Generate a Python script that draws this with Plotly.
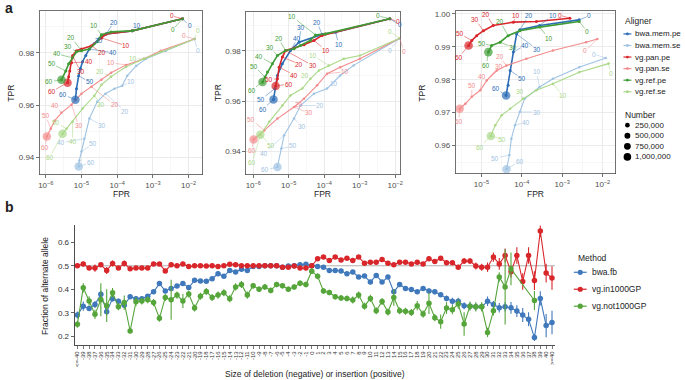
import math
import plotly.graph_objects as go

W, H = 685, 380
FONT = "Liberation Sans, Arial, Helvetica, sans-serif"

# ---------------- Panel a : ROC-like curves ----------------
ALIGNERS = ["bwa.mem.pe", "bwa.mem.se", "vg.pan.pe", "vg.pan.se", "vg.ref.pe", "vg.ref.se"]
ALIGNER_COLORS = ["#2c6db5", "#9fc3e3", "#d9262b", "#f38b8c", "#3f9c35", "#aad887"]
NUMBER_LEGEND = [250000, 500000, 750000, 1000000]
NUMBER_LEGEND_TEXT = ["250,000", "500,000", "750,000", "1,000,000"]

# panel a1
a1_bwa_mem_pe_fpr = [6.76e-3, 2.63e-4, 4.9e-5, 3.16e-5, 2.24e-5, 1.66e-5, 1.32e-5, 1.07e-5, 9.33e-6, 8.32e-6, 7.24e-6, 6.76e-6]
a1_bwa_mem_pe_tpr = [0.9930, 0.9884, 0.9872, 0.9855, 0.9835, 0.9815, 0.9790, 0.9766, 0.9740, 0.9712, 0.9663, 0.9621]
a1_bwa_mem_se_fpr = [1.47e-2, 2.29e-3, 6.46e-4, 3.39e-4, 1.91e-4, 1.38e-4, 8.32e-5, 4.68e-5, 2.75e-5, 1.66e-5, 1.2e-5, 1.0e-5, 8.71e-6, 8.32e-6]
a1_bwa_mem_se_tpr = [0.9853, 0.9808, 0.9777, 0.9750, 0.9712, 0.9674, 0.9663, 0.9644, 0.9613, 0.9549, 0.9472, 0.9423, 0.9389, 0.9366]
a1_vg_pan_pe_fpr = [6.76e-3, 2.63e-4, 4.9e-5, 3.63e-5, 1.91e-5, 1.0e-5, 7.24e-6, 5.62e-6, 5.25e-6, 4.68e-6, 4.37e-6, 4.07e-6]
a1_vg_pan_pe_tpr = [0.9930, 0.9884, 0.9872, 0.9857, 0.9827, 0.9815, 0.9808, 0.9789, 0.9762, 0.9731, 0.9709, 0.9686]
a1_vg_pan_se_fpr = [1.47e-2, 1.66e-3, 5.62e-4, 1.78e-4, 6.76e-5, 3.63e-5, 1.91e-5, 1.0e-5, 5.25e-6, 2.75e-6, 1.78e-6, 1.38e-6, 1.07e-6]
a1_vg_pan_se_tpr = [0.9853, 0.9808, 0.9777, 0.9754, 0.9724, 0.9697, 0.9670, 0.9644, 0.9602, 0.9571, 0.9541, 0.9510, 0.9480]
a1_vg_ref_pe_fpr = [6.76e-3, 2.63e-4, 6.76e-5, 3.63e-5, 2.75e-5, 1.66e-5, 1.0e-5, 7.24e-6, 5.62e-6, 4.37e-6, 3.63e-6, 2.75e-6]
a1_vg_ref_pe_tpr = [0.9930, 0.9884, 0.9880, 0.9869, 0.9842, 0.9815, 0.9808, 0.9804, 0.9781, 0.9758, 0.9731, 0.9697]
a1_vg_ref_se_fpr = [1.47e-2, 1.66e-3, 5.62e-4, 1.78e-4, 6.76e-5, 3.63e-5, 2.29e-5, 1.07e-5, 5.62e-6, 3.8e-6, 2.95e-6]
a1_vg_ref_se_tpr = [0.9853, 0.9804, 0.9777, 0.9747, 0.9709, 0.9678, 0.9636, 0.9587, 0.9537, 0.9510, 0.9491]
a1_number = [1000000, 1000000, 1000000, 1000000, 1000000, 1000000]

# panel a2
a2_bwa_mem_pe_fpr = [7.08e-3, 2.09e-4, 8.71e-5, 1.95e-5, 1.12e-5, 6.61e-6, 4.79e-6, 4.07e-6, 3.72e-6]
a2_bwa_mem_pe_tpr = [0.9927, 0.9874, 0.9865, 0.9834, 0.9801, 0.9749, 0.9702, 0.9650, 0.9607]
a2_bwa_mem_se_fpr = [1.35e-2, 6.76e-4, 2.82e-4, 1.2e-4, 5.13e-5, 2.14e-5, 1.41e-5, 7.41e-6, 6.17e-6, 4.79e-6]
a2_bwa_mem_se_tpr = [0.9850, 0.9742, 0.9702, 0.9650, 0.9630, 0.9583, 0.9531, 0.9465, 0.9412, 0.9339]
a2_vg_pan_pe_fpr = [7.08e-3, 1.07e-4, 8.71e-5, 5.13e-5, 2.69e-5, 1.41e-5, 8.13e-6, 6.61e-6, 5.37e-6, 4.79e-6, 4.27e-6]
a2_vg_pan_pe_tpr = [0.9927, 0.9867, 0.9861, 0.9841, 0.9824, 0.9811, 0.9801, 0.9775, 0.9735, 0.9689, 0.9660]
a2_vg_pan_se_fpr = [1.35e-2, 1.02e-3, 2.82e-4, 1.2e-4, 6.31e-5, 2.69e-5, 1.41e-5, 4.79e-6, 2.04e-6, 1.02e-6]
a2_vg_pan_se_tpr = [0.9850, 0.9768, 0.9735, 0.9709, 0.9663, 0.9610, 0.9577, 0.9531, 0.9484, 0.9448]
a2_vg_ref_pe_fpr = [7.08e-3, 1.07e-4, 5.68e-5, 4.07e-5, 2.14e-5, 1.41e-5, 8.13e-6, 4.79e-6, 3.47e-6, 2.51e-6, 2.14e-6, 1.82e-6]
a2_vg_ref_pe_tpr = [0.9927, 0.9867, 0.9863, 0.9841, 0.9821, 0.9808, 0.9801, 0.9781, 0.9749, 0.9716, 0.9696, 0.9676]
a2_vg_ref_se_fpr = [1.35e-2, 1.02e-3, 3.55e-4, 1.35e-4, 7.08e-5, 4.07e-5, 2.4e-5, 1.12e-5, 6.61e-6, 2.82e-6, 1.58e-6]
a2_vg_ref_se_tpr = [0.9850, 0.9781, 0.9768, 0.9742, 0.9722, 0.9689, 0.9650, 0.9623, 0.9583, 0.9518, 0.9467]
a2_number = [1000000, 1000000, 1000000, 1000000, 1000000, 1000000]

# panel a3
a3_bwa_mem_pe_fpr = [2.63e-3, 2.75e-4, 8.91e-5, 7.41e-5, 6.17e-5, 5.13e-5, 4.57e-5, 4.07e-5]
a3_bwa_mem_pe_tpr = [0.9982, 0.9965, 0.9952, 0.9939, 0.9884, 0.9828, 0.9783, 0.9752]
a3_bwa_mem_se_fpr = [1.2e-2, 2.63e-3, 5.89e-4, 2.75e-4, 1.17e-4, 8.91e-5, 6.76e-5, 5.5e-5, 4.9e-5, 4.17e-5]
a3_bwa_mem_se_tpr = [0.9866, 0.9838, 0.9803, 0.9778, 0.9742, 0.9702, 0.9662, 0.9621, 0.9571, 0.9528]
a3_vg_pan_pe_fpr = [1.55e-3, 2.29e-4, 6.17e-5, 1.95e-5, 1.12e-5, 7.59e-6, 5.75e-6, 4.79e-6]
a3_vg_pan_pe_tpr = [0.9987, 0.9977, 0.9975, 0.9965, 0.9949, 0.9934, 0.9919, 0.9904]
a3_vg_pan_se_fpr = [7.41e-3, 3.89e-3, 5.89e-4, 1.29e-4, 4.17e-5, 2.4e-5, 1.35e-5, 9.33e-6, 5.75e-6, 3.98e-6, 2.88e-6]
a3_vg_pan_se_tpr = [0.9924, 0.9914, 0.9889, 0.9864, 0.9843, 0.9828, 0.9798, 0.9768, 0.9748, 0.9727, 0.9712]
a3_vg_ref_pe_fpr = [2.63e-3, 2.75e-4, 8.91e-5, 4.57e-5, 2.88e-5, 1.78e-5, 1.48e-5]
a3_vg_ref_pe_tpr = [0.9977, 0.9960, 0.9949, 0.9934, 0.9914, 0.9904, 0.9884]
a3_vg_ref_se_fpr = [1.41e-2, 2.63e-3, 5.89e-4, 2.29e-4, 1.07e-4, 5.13e-5, 3.16e-5, 2.19e-5, 1.7e-5]
a3_vg_ref_se_tpr = [0.9849, 0.9823, 0.9788, 0.9768, 0.9742, 0.9712, 0.9692, 0.9662, 0.9629]
a3_number = [1000000, 1000000, 1050000, 1000000, 1050000, 1000000]

# MAPQ labels: (text, vertex index, dx px, dy px) -- placement only
LABELS_A1 = {
    "bwa.mem.pe": [("0", 0, 7, 7), ("10", 1, 5, -5), ("20", 2, 8, -12), ("30", 3, 0, 2), ("40", 5, 24, 4), ("50", 9, 11, 6), ("60", 11, -12, -5)],
    "bwa.mem.se": [("0", 0, 3, 12), ("10", 5, 9, -4), ("20", 7, 20, 18), ("30", 9, 13, 7), ("40", 10, -23, 4), ("50", 11, 12, -8), ("60", 13, 12, -4)],
    "vg.pan.pe": [("0", 0, -11, -3), ("10", 3, 25, 8), ("20", 4, 10, 7), ("30", 7, 8, 16), ("40", 8, 17, -1), ("60", 11, -16, 9)],
    "vg.pan.se": [("0", 0, -11, -3), ("10", 3, -15, -2), ("20", 6, 23, 18), ("30", 8, 7, 21), ("40", 9, -6, -7), ("50", 11, -5, -13), ("60", 12, -2, 11)],
    "vg.ref.pe": [("0", 0, -10, 11), ("10", 3, -7, -9), ("20", 6, -10, -13), ("30", 7, -8, -5), ("40", 8, -16, -4), ("50", 10, -14, -7), ("60", 11, -12, 2)],
    "vg.ref.se": [("0", 0, 3, -8), ("10", 2, -11, 0), ("20", 4, -11, -5), ("30", 6, 7, 9), ("40", 8, 0, 20), ("50", 9, -10, -6), ("60", 10, -13, 24)],
}
LABELS_A2 = {
    "bwa.mem.pe": [("0", 0, 10, 6), ("10", 1, 3, 12), ("20", 2, -5, -12), ("30", 3, 2, -15), ("40", 4, 7, -12), ("50", 7, -14, 11), ("60", 8, -11, 10)],
    "bwa.mem.se": [("0", 0, -10, 12), ("10", 3, 7, -5), ("20", 5, 20, 0), ("30", 6, 8, 8), ("40", 7, -20, 18), ("50", 8, 12, -3), ("60", 9, -12, 3)],
    "vg.pan.pe": [("0", 0, 8, 3), ("10", 3, 12, 10), ("20", 7, 17, 7), ("30", 6, 27, 15), ("40", 8, 15, 8), ("50", 9, -8, 1), ("60", 10, 13, -2)],
    "vg.pan.se": [("0", 0, 4, 13), ("10", 3, 18, -2), ("20", 5, -5, 6), ("30", 6, 15, 6), ("50", 8, -13, -11), ("60", 9, -2, 11)],
    "vg.ref.pe": [("0", 0, -12, -3), ("10", 2, -23, -18), ("20", 6, -7, -12), ("30", 7, -7, -8), ("40", 8, -13, -7), ("50", 10, -11, -11), ("60", 11, -11, 8)],
    "vg.ref.se": [("0", 0, -10, -7), ("10", 3, -16, -10), ("20", 5, -5, -3), ("50", 10, 11, 11), ("60", 10, -8, 28)],
}
LABELS_A3 = {
    "bwa.mem.pe": [("0", 0, 10, -4), ("10", 1, 13, -10), ("20", 2, 9, -14), ("30", 3, 20, 15), ("40", 4, 12, -7), ("50", 5, 12, 8), ("60", 7, -10, -7)],
    "bwa.mem.se": [("0", 0, -12, -4), ("10", 3, -3, -15), ("30", 5, 17, 0), ("40", 6, 11, -3), ("50", 8, -14, 3), ("60", 9, 13, -8)],
    "vg.pan.pe": [("0", 0, -10, -3), ("10", 2, 3, -7), ("20", 3, -7, -11), ("30", 4, -8, -11), ("50", 6, -12, -7), ("60", 7, -10, 12)],
    "vg.pan.se": [("0", 0, -12, 12), ("20", 4, -7, -9), ("30", 6, 12, -14), ("40", 7, 2, -14), ("50", 8, 0, -11), ("60", 10, -1, 13)],
    "vg.ref.pe": [("0", 0, 8, 10), ("10", 1, 9, 11), ("20", 3, -8, -14), ("30", 4, 13, 5), ("50", 5, -10, -2), ("60", 6, -2, 13)],
    "vg.ref.se": [("0", 0, 2, 10), ("10", 2, 10, 12), ("30", 4, -3, -7), ("50", 8, 11, 3), ("60", 8, -11, 11)],
}

# ---------------- Panel b : fraction of alternate allele ----------------
METHODS = ["bwa.fb", "vg.in1000GP", "vg.not1000GP"]
METHOD_COLORS = ["#3f78bb", "#d8262a", "#55a53a"]
size_categories = ["<=-40"] + [str(v) for v in range(-39, 41)] + [">=40"]

bwa_fb = [0.29, 0.328, 0.318, 0.335, 0.379, 0.304, 0.36, 0.349, 0.332, 0.368,
          0.36, 0.36, 0.37, 0.389, 0.424, 0.393, 0.403, 0.414, 0.424, 0.407,
          0.438, 0.435, 0.434, 0.445, 0.466, 0.455, 0.48, 0.473, 0.485, 0.48,
          0.497, 0.497, 0.50, 0.50, 0.50, 0.494, 0.499, 0.50, 0.504, 0.506,
          0.50, 0.497, 0.494, 0.48, 0.48, 0.478, 0.466, 0.473, 0.452, 0.456,
          0.431, 0.459, 0.431, 0.452, 0.389, 0.42, 0.403, 0.399, 0.389, 0.403,
          0.393, 0.389, 0.377, 0.361, 0.349, 0.349, 0.33, 0.328, 0.325, 0.325,
          0.349, 0.335, 0.321, 0.325, 0.321, 0.307, 0.29, 0.272, 0.194, 0.361,
          0.245, 0.258]
bwa_fb_err = [0.015, 0.02, 0.01, 0.015, 0.015, 0.015, 0.012, 0.01, 0.01, 0.01,
              0.01, 0.008, 0.008, 0.008, 0.008, 0.008, 0.006, 0.006, 0.006, 0.006,
              0.005, 0.005, 0.005, 0.005, 0.005, 0.005, 0.005, 0.005, 0.005, 0.005,
              0.005, 0.005, 0.005, 0.005, 0.005, 0.005, 0.005, 0.005, 0.005, 0.005,
              0.005, 0.005, 0.005, 0.005, 0.005, 0.005, 0.005, 0.005, 0.005, 0.005,
              0.008, 0.008, 0.008, 0.008, 0.008, 0.008, 0.008, 0.008, 0.008, 0.008,
              0.01, 0.01, 0.01, 0.012, 0.015, 0.015, 0.015, 0.015, 0.015, 0.015,
              0.02, 0.015, 0.02, 0.02, 0.025, 0.025, 0.03, 0.03, 0.015, 0.03,
              0.05, 0.05]
vg_in1000gp = [0.50, 0.508, 0.49, 0.49, 0.504, 0.48, 0.51, 0.49, 0.51, 0.487,
               0.49, 0.49, 0.49, 0.508, 0.508, 0.478, 0.504, 0.50, 0.508, 0.497,
               0.50, 0.50, 0.499, 0.50, 0.497, 0.50, 0.507, 0.504, 0.50, 0.50,
               0.50, 0.50, 0.50, 0.50, 0.50, 0.494, 0.494, 0.499, 0.49, 0.49,
               0.50, 0.53, 0.537, 0.522, 0.537, 0.525, 0.532, 0.522, 0.537, 0.511,
               0.515, 0.515, 0.527, 0.511, 0.504, 0.515, 0.515, 0.508, 0.515, 0.508,
               0.53, 0.518, 0.532, 0.513, 0.513, 0.494, 0.52, 0.52, 0.499, 0.494,
               0.494, 0.537, 0.508, 0.544, 0.475, 0.544, 0.433, 0.544, 0.437, 0.648,
               0.469, 0.448]
vg_in1000gp_err = [0.01, 0.01, 0.008, 0.015, 0.008, 0.015, 0.013, 0.008, 0.012, 0.008,
                   0.008, 0.006, 0.006, 0.008, 0.008, 0.008, 0.006, 0.006, 0.006, 0.006,
                   0.006, 0.006, 0.006, 0.006, 0.006, 0.006, 0.006, 0.006, 0.006, 0.006,
                   0.005, 0.005, 0.005, 0.005, 0.005, 0.005, 0.005, 0.005, 0.005, 0.005,
                   0.005, 0.006, 0.006, 0.006, 0.006, 0.006, 0.006, 0.006, 0.006, 0.006,
                   0.006, 0.006, 0.006, 0.006, 0.006, 0.006, 0.006, 0.006, 0.008, 0.008,
                   0.01, 0.008, 0.01, 0.01, 0.01, 0.01, 0.012, 0.012, 0.015, 0.015,
                   0.02, 0.02, 0.025, 0.03, 0.025, 0.035, 0.035, 0.035, 0.04, 0.025,
                   0.04, 0.05]
vg_not1000gp = [0.251, 0.406, 0.35, 0.293, 0.355, 0.33, 0.385, 0.325, 0.343, 0.222,
                0.347, 0.35, 0.355, 0.343, 0.276, 0.365, 0.355, 0.375, 0.35, 0.38,
                0.32, 0.37, 0.39, 0.365, 0.375, 0.385, 0.36, 0.41, 0.42, 0.375,
                0.415, 0.40, 0.41, 0.395, 0.42, 0.415, 0.40, 0.41, 0.425, 0.42,
                0.477, 0.455, 0.392, 0.386, 0.368, 0.363, 0.361, 0.354, 0.375, 0.328,
                0.361, 0.308, 0.348, 0.303, 0.365, 0.308, 0.306, 0.301, 0.33, 0.294,
                0.34, 0.279, 0.262, 0.32, 0.313, 0.337, 0.252, 0.328, 0.325, 0.325,
                0.216, 0.308, 0.452, 0.41, 0.487, None, None, None, 0.352, None,
                None, None]
vg_not1000gp_err = [0.015, 0.02, 0.02, 0.02, 0.07, 0.07, 0.02, 0.015, 0.03, 0.01,
                    0.02, 0.015, 0.015, 0.015, 0.015, 0.015, 0.085, 0.015, 0.03, 0.015,
                    0.015, 0.015, 0.015, 0.015, 0.015, 0.015, 0.015, 0.015, 0.015, 0.015,
                    0.012, 0.012, 0.012, 0.012, 0.012, 0.012, 0.012, 0.012, 0.012, 0.012,
                    0.012, 0.012, 0.012, 0.012, 0.012, 0.012, 0.012, 0.015, 0.015, 0.015,
                    0.015, 0.015, 0.015, 0.015, 0.035, 0.015, 0.015, 0.015, 0.02, 0.015,
                    0.045, 0.015, 0.03, 0.025, 0.02, 0.02, 0.05, 0.02, 0.02, 0.02,
                    0.02, 0.02, 0.02, 0.16, 0.07, 0, 0, 0, 0.04, 0,
                    0, 0]

# ---------------- build ----------------
def fx(px):
    return px / W


def fy(py):
    return 1 - py / H


def dot_size(n):
    return 2 + 6.5 * math.sqrt(n / 1e6)


fig = go.Figure()
annotations = []
shapes = []

panels = [
    ("x", "y", {
        "bwa.mem.pe": (a1_bwa_mem_pe_fpr, a1_bwa_mem_pe_tpr),
        "bwa.mem.se": (a1_bwa_mem_se_fpr, a1_bwa_mem_se_tpr),
        "vg.pan.pe": (a1_vg_pan_pe_fpr, a1_vg_pan_pe_tpr),
        "vg.pan.se": (a1_vg_pan_se_fpr, a1_vg_pan_se_tpr),
        "vg.ref.pe": (a1_vg_ref_pe_fpr, a1_vg_ref_pe_tpr),
        "vg.ref.se": (a1_vg_ref_se_fpr, a1_vg_ref_se_tpr),
    }, a1_number, LABELS_A1),
    ("x2", "y2", {
        "bwa.mem.pe": (a2_bwa_mem_pe_fpr, a2_bwa_mem_pe_tpr),
        "bwa.mem.se": (a2_bwa_mem_se_fpr, a2_bwa_mem_se_tpr),
        "vg.pan.pe": (a2_vg_pan_pe_fpr, a2_vg_pan_pe_tpr),
        "vg.pan.se": (a2_vg_pan_se_fpr, a2_vg_pan_se_tpr),
        "vg.ref.pe": (a2_vg_ref_pe_fpr, a2_vg_ref_pe_tpr),
        "vg.ref.se": (a2_vg_ref_se_fpr, a2_vg_ref_se_tpr),
    }, a2_number, LABELS_A2),
    ("x3", "y3", {
        "bwa.mem.pe": (a3_bwa_mem_pe_fpr, a3_bwa_mem_pe_tpr),
        "bwa.mem.se": (a3_bwa_mem_se_fpr, a3_bwa_mem_se_tpr),
        "vg.pan.pe": (a3_vg_pan_pe_fpr, a3_vg_pan_pe_tpr),
        "vg.pan.se": (a3_vg_pan_se_fpr, a3_vg_pan_se_tpr),
        "vg.ref.pe": (a3_vg_ref_pe_fpr, a3_vg_ref_pe_tpr),
        "vg.ref.se": (a3_vg_ref_se_fpr, a3_vg_ref_se_tpr),
    }, a3_number, LABELS_A3),
]

for xa, ya, data, numbers, labels in panels:
    for name, color in zip(ALIGNERS, ALIGNER_COLORS):
        fpr, tpr = data[name]
        pe = name.endswith(".pe")
        fig.add_trace(go.Scatter(
            x=fpr, y=tpr, xaxis=xa, yaxis=ya, mode="lines+markers",
            line=dict(color=color, width=1.6 if pe else 1.1),
            marker=dict(color=color, size=3.0 if pe else 2.5),
            showlegend=False, hoverinfo="skip"))
    fig.add_trace(go.Scatter(
        x=[data[n][0][-1] for n in ALIGNERS], y=[data[n][1][-1] for n in ALIGNERS],
        xaxis=xa, yaxis=ya, mode="markers",
        marker=dict(color=ALIGNER_COLORS, size=[dot_size(v) for v in numbers], line=dict(width=0)),
        showlegend=False, hoverinfo="skip"))
    for name, color in zip(ALIGNERS, ALIGNER_COLORS):
        fpr, tpr = data[name]
        for text, idx, dx, dy in labels.get(name, []):
            annotations.append(dict(
                x=math.log10(fpr[idx]), y=tpr[idx], xref=xa, yref=ya,
                text=text, showarrow=True, arrowhead=0, arrowwidth=0.5,
                arrowcolor=color, ax=dx, ay=dy, standoff=0,
                font=dict(size=6.5, color=color, family=FONT), borderpad=0))

for name, color, vals, errs in zip(METHODS, METHOD_COLORS,
                                   [bwa_fb, vg_in1000gp, vg_not1000gp],
                                   [bwa_fb_err, vg_in1000gp_err, vg_not1000gp_err]):
    fig.add_trace(go.Scatter(
        x=size_categories, y=vals, xaxis="x4", yaxis="y4", mode="lines+markers",
        connectgaps=True,
        line=dict(color=color, width=1.1),
        marker=dict(color=color, size=5.5),
        error_y=dict(type="data", array=errs, visible=True, color=color, thickness=1.1, width=0),
        showlegend=False, hoverinfo="skip"))

# ---------------- axes ----------------
grid_major = "#e6e6e6"
grid_minor = "#f0f0f0"
frame = "#4d4d4d"
tickfont = dict(size=8, color="#4d4d4d", family=FONT)

log_ticks = [1e-6, 1e-5, 1e-4, 1e-3, 1e-2]
log_text = ["10<sup>−6</sup>", "10<sup>−5</sup>", "10<sup>−4</sup>", "10<sup>−3</sup>", "10<sup>−2</sup>"]
log_minor = [3.162e-7, 3.162e-6, 3.162e-5, 3.162e-4, 3.162e-3, 3.162e-2]


def xlog(dom, rng):
    return dict(domain=dom, type="log", range=rng, tickmode="array", tickvals=log_ticks,
                ticktext=log_text, showgrid=True, gridcolor=grid_major, gridwidth=0.8,
                minor=dict(tickvals=log_minor, showgrid=True, gridcolor=grid_minor, gridwidth=0.5, ticks=""),
                showline=True, mirror=True, linecolor=frame, linewidth=0.8,
                ticks="outside", ticklen=3, tickwidth=0.7, tickcolor="#333333",
                tickfont=tickfont, zeroline=False)


def ylin(dom, rng, tv, tt, mv, anchor):
    return dict(domain=dom, range=rng, tickmode="array", tickvals=tv, ticktext=tt,
                showgrid=True, gridcolor=grid_major, gridwidth=0.8,
                minor=dict(tickvals=mv, showgrid=True, gridcolor=grid_minor, gridwidth=0.5, ticks=""),
                showline=True, mirror=True, linecolor=frame, linewidth=0.8,
                ticks="outside", ticklen=3, tickwidth=0.7, tickcolor="#333333",
                tickfont=tickfont, zeroline=False, anchor=anchor)


layout = dict(
    width=W, height=H, margin=dict(l=0, r=0, t=0, b=0),
    paper_bgcolor="white", plot_bgcolor="white",
    font=dict(family=FONT, size=8, color="#222222"),
    showlegend=False,
    xaxis=dict(xlog([fx(38), fx(202)], [-6.17, -1.61]), anchor="y"),
    yaxis=ylin([fy(174), fy(10)], [0.9335, 0.996], [0.94, 0.96, 0.98], ["0.94", "0.96", "0.98"],
               [0.95, 0.97, 0.99], "x"),
    xaxis2=dict(xlog([fx(246), fx(401)], [-6.2, -1.86]), anchor="y2"),
    yaxis2=ylin([fy(174), fy(11)], [0.9309, 0.9954], [0.94, 0.96, 0.98], ["0.94", "0.96", "0.98"],
                [0.95, 0.97, 0.99], "x2"),
    xaxis3=dict(xlog([fx(457), fx(618)], [-5.64, -1.68]), anchor="y3"),
    yaxis3=ylin([fy(173), fy(10)], [0.9515, 1.0009], [0.96, 0.97, 0.98, 0.99, 1.00],
                ["0.96", "0.97", "0.98", "0.99", "1.00"], [0.955, 0.965, 0.975, 0.985, 0.995], "x3"),
    xaxis4=dict(domain=[fx(73), fx(557)], type="category", anchor="y4",
                range=[-0.5, len(size_categories) - 0.5],
                tickmode="array", tickvals=size_categories,
                ticktext=[c.replace("<", "&lt;").replace(">", "&gt;") for c in size_categories],
                tickangle=-90, tickfont=dict(size=6, color="#333333", family=FONT),
                showline=True, linecolor="#222222", linewidth=0.8, showgrid=False,
                ticks="outside", ticklen=3, tickwidth=0.6, tickcolor="#222222", zeroline=False),
    yaxis4=dict(domain=[fy(345), fy(225)], range=[0.162, 0.672], anchor="x4",
                tickmode="array", tickvals=[0.2, 0.3, 0.4, 0.5, 0.6],
                ticktext=["0.2", "0.3", "0.4", "0.5", "0.6"],
                tickfont=dict(size=8, color="#333333", family=FONT),
                showline=True, linecolor="#222222", linewidth=0.8, showgrid=False,
                ticks="outside", ticklen=3, tickwidth=0.7, tickcolor="#222222", zeroline=False),
)

shapes.append(dict(type="line", xref="x4 domain", yref="y4", x0=0, x1=1, y0=0.5, y1=0.5,
                   line=dict(color="#b0b0b0", width=1), layer="below"))


def txt(x, y, s, size=8.5, color="#222222", angle=0, xanchor="center", yanchor="middle", bold=False):
    annotations.append(dict(x=fx(x), y=fy(y), xref="paper", yref="paper", text=(f"<b>{s}</b>" if bold else s),
                            showarrow=False, font=dict(size=size, color=color, family=FONT),
                            textangle=angle, xanchor=xanchor, yanchor=yanchor, borderpad=0))


txt(2, 7, "a", size=14, xanchor="left", bold=True)
txt(2, 207, "b", size=14, xanchor="left", bold=True)
for cx in (120, 323, 537):
    txt(cx, 194, "FPR")
for cx in (9, 217, 423):
    txt(cx, 92, "TPR", angle=-90)
txt(44, 286, "Fraction of alternate allele", angle=-90)
txt(315, 374, "Size of deletion (negative) or insertion (positive)")

# legends
txt(627, 20, "Aligner", xanchor="left")
for i, (name, color) in enumerate(zip(ALIGNERS, ALIGNER_COLORS)):
    yy = 33 + i * 11.6
    shapes.append(dict(type="line", xref="paper", yref="paper", x0=fx(626), x1=fx(634), y0=fy(yy), y1=fy(yy),
                       line=dict(color=color, width=1.2)))
    r = 1.4
    shapes.append(dict(type="circle", xref="paper", yref="paper", x0=fx(630 - r), x1=fx(630 + r),
                       y0=fy(yy + r), y1=fy(yy - r), fillcolor=color, line=dict(width=0)))
    txt(637, yy, name, size=8, xanchor="left")

txt(627, 114, "Number", xanchor="left")
for i, (n, label) in enumerate(zip(NUMBER_LEGEND, NUMBER_LEGEND_TEXT)):
    yy = 124.5 + i * 10.6
    r = dot_size(n) / 2 * 0.9
    shapes.append(dict(type="circle", xref="paper", yref="paper", x0=fx(630 - r), x1=fx(630 + r),
                       y0=fy(yy + r), y1=fy(yy - r), fillcolor="black", line=dict(width=0)))
    txt(637, yy, label, size=8, xanchor="left")

txt(579, 258, "Method", xanchor="left")
for i, (name, color) in enumerate(zip(METHODS, METHOD_COLORS)):
    yy = 272 + i * 17
    shapes.append(dict(type="line", xref="paper", yref="paper", x0=fx(576), x1=fx(589), y0=fy(yy), y1=fy(yy),
                       line=dict(color=color, width=1.2)))
    r = 2.6
    shapes.append(dict(type="circle", xref="paper", yref="paper", x0=fx(582.5 - r), x1=fx(582.5 + r),
                       y0=fy(yy + r), y1=fy(yy - r), fillcolor=color, line=dict(width=0)))
    txt(593, yy, name, xanchor="left")

layout["annotations"] = annotations
layout["shapes"] = shapes
fig.update_layout(**layout)
fig.write_html("out.html", config={"displayModeBar": False, "staticPlot": True},
               post_script="document.body.style.margin='0px';document.body.style.padding='0px';")
